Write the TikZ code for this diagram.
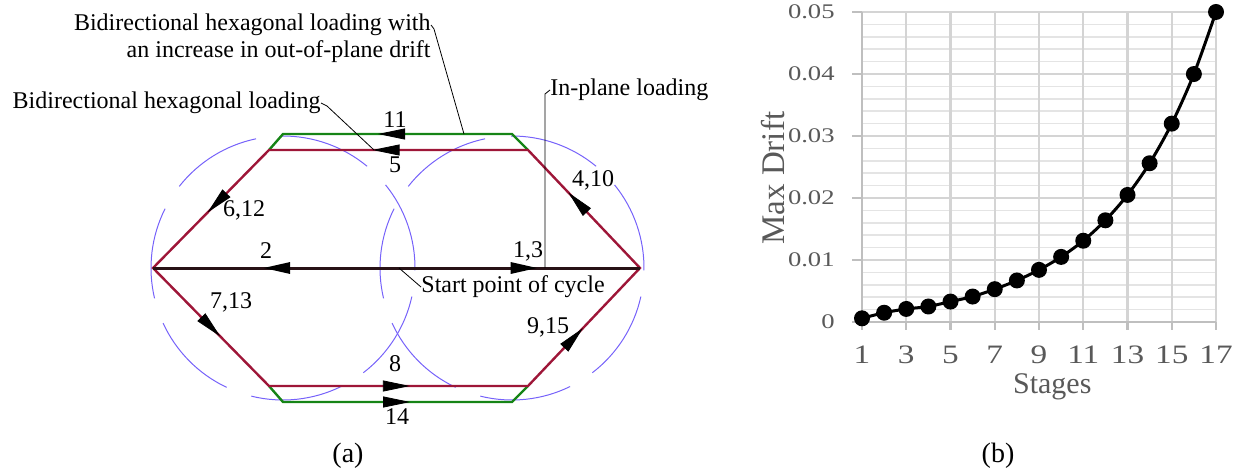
\documentclass[tikz,border=0pt]{standalone}
\usepackage{fontspec}
\usepackage{graphicx}
\setmainfont{Liberation Serif}
\usetikzlibrary{arrows.meta,decorations.markings}

\definecolor{hexred}{RGB}{158,22,56}
\definecolor{hexgreen}{RGB}{22,132,22}
\definecolor{guide}{RGB}{118,98,250}
\definecolor{axisgray}{RGB}{191,191,191}
\definecolor{gridgray}{RGB}{212,212,212}
\definecolor{minorgray}{RGB}{228,228,228}
\definecolor{labgray}{RGB}{89,89,89}

\tikzset{
  redpath/.style={draw=hexred, line width=1.2pt},
  greenpath/.style={draw=hexgreen, line width=1.2pt},
  blackpath/.style={draw={rgb,255:red,40;green,18;blue,22}, line width=1.5pt},
  guidearc/.style={draw=guide, line width=0.5pt},
  leader/.style={draw=black, line width=0.4pt},
  tipmark/.style={postaction={decorate, decoration={markings,
      mark=at position #1 with {\arrow[black]{Triangle[length=13.5pt,width=5.5pt]}}}}},
  tiprev/.style={postaction={decorate, decoration={markings,
      mark=at position #1 with {\arrowreversed[black]{Triangle[length=13.5pt,width=5.5pt]}}}}},
  steplabel/.style={inner sep=0pt},
  majorgrid/.style={draw=gridgray, line width=1.2pt},
  minorgrid/.style={draw=minorgray, line width=0.8pt},
  axisline/.style={draw=axisgray, line width=1.2pt},
  ticklabel/.style={text=labgray, inner sep=0pt},
}

\begin{document}
\begin{tikzpicture}[x=0.5pt, y=0.5pt, font=\fontsize{12}{14}\selectfont]
\useasboundingbox (0,0) rectangle (1236,472);

% (a) loading paths
\coordinate (L) at (153,204);
\coordinate (R) at (640,204);
\coordinate (TL) at (269,322);
\coordinate (TR) at (528,322);
\coordinate (BL) at (269,86);
\coordinate (BR) at (528,86);
\coordinate (GTL) at (283,338);
\coordinate (GTR) at (512,338);
\coordinate (GBL) at (283,70);
\coordinate (GBR) at (512,70);
\coordinate (C1) at (283,204);
\coordinate (C2) at (512,204);

% broken guide circles
\foreach \ctr in {C1,C2}
  \foreach \a in {50.4,101.8,153.3,204.7,256.1,307.5,359}
    \draw[guidearc] ([shift={(\a:66pt)}]\ctr) arc[start angle=\a, delta angle=40, radius=66pt];

\draw[greenpath] (TL) -- (GTL) -- (GTR) -- (TR);
\draw[greenpath] (BL) -- (GBL) -- (GBR) -- (BR);
\path[tipmark=0.585] (GTR) -- (GTL);
\path[tipmark=0.555] (GBL) -- (GBR);

\draw[redpath] (L) -- (TL) -- (TR) -- (R) -- (BR) -- (BL) -- cycle;
\foreach \a/\b/\p in {TR/TL/0.6, TL/L/0.53, L/BL/0.58, BL/BR/0.544, BR/R/0.49, R/TR/0.64}
  \path[tipmark=\p] (\a) -- (\b);

\draw[blackpath, tipmark=0.79, tiprev=0.226] (L) -- (R);

% step numbers
\node[steplabel] (s11) at (395,352) {11};
\node[steplabel] (s5) at (395,307) {5};
\node[steplabel] (s8) at (395,108) {8};
\node[steplabel] (s14) at (397,55) {14};
\node[steplabel] (s2) at (266,221) {2};
\node[steplabel] (s13) at (528,221) {1,3};
\node[steplabel] (s612) at (244,262) {6,12};
\node[steplabel] (s713) at (231,170) {7,13};
\node[steplabel] (s410) at (593,292) {4,10};
\node[steplabel] (s915) at (548,145) {9,15};

% callouts
\node[steplabel, anchor=east] (drift1) at (431,447) {Bidirectional hexagonal loading with};
\node[steplabel, anchor=east] (drift2) at (431,420) {an increase in out-of-plane drift};
\coordinate (gdrift) at (464,338);
\draw[leader] (drift1.east) -- ++(3,-4) -- (gdrift);

\node[steplabel, anchor=east] (hexload) at (321,369) {Bidirectional hexagonal loading};
\coordinate (rhex) at (374,322);
\draw[leader] (hexload.east) -- ++(6,-3) -- (rhex);

\node[steplabel, anchor=west] (inplane) at (550,382) {In-plane loading};
\coordinate (inpl) at (545,204);
\draw[leader] (inpl) -- (545,378) -- (inplane.west);

\node[steplabel, anchor=west] (startpt) at (421,185) {Start point of cycle};
\coordinate (spt) at (399,204);
\draw[leader] (spt) -- (startpt.west);

\node[font=\fontsize{14}{16}\selectfont] (capa) at (348,16) {(a)};

% (b) drift per stage
\begin{scope}[xshift=431pt, yshift=75pt, x=11.0625pt, y=3100pt]
  \foreach \j in {0,...,4}
    \foreach \m in {1,...,4}
      \draw[minorgrid] (0,{\j/100+\m/500}) -- (16,{\j/100+\m/500});
  \foreach \j in {1,...,5}
    \draw[majorgrid] (0,{\j/100}) -- (16,{\j/100});
  \foreach \s in {2,4,...,16}
    \draw[majorgrid] (\s,0) -- (\s,0.05);
  \draw[axisline] (0,0.05) -- (0,0) -- (16,0);
  \foreach \j/\t in {0/0, 1/0.01, 2/0.02, 3/0.03, 4/0.04, 5/0.05} {
    \draw[axisline] (0,{\j/100}) -- ++(-5pt,0);
    \node[ticklabel, anchor=east, xshift=-13.5pt] at (0,{\j/100})
      {\fontsize{10.4}{12}\selectfont\scalebox{1.28}[1]{\t}};
  }
  \foreach \s [evaluate=\s as \n using int(\s+1)] in {0,2,...,16} {
    \draw[axisline] (\s,0) -- ++(0,-4pt);
    \node[ticklabel, yshift=-16.5pt] at (\s,0)
      {\fontsize{13.3}{15}\selectfont\scalebox{1.25}[1]{\n}};
  }
  \node[ticklabel, rotate=90, yshift=44.5pt] (ylab) at (0,0.0232)
    {\fontsize{16.5}{18}\selectfont Max Drift};
  \node[ticklabel, yshift=-32.5pt] (xlab) at (8.6,0)
    {\fontsize{15}{17}\selectfont Stages};

  \draw[line width=1.5pt] plot[smooth] coordinates {(0,0.0006) (1,0.0015) (2,0.0021)
    (3,0.0025) (4,0.0033) (5,0.0041) (6,0.0053) (7,0.0067) (8,0.0084) (9,0.0105)
    (10,0.0131) (11,0.0164) (12,0.0205) (13,0.0256) (14,0.032) (15,0.04) (16,0.05)};
  \foreach \s/\v in {0/0.0006, 1/0.0015, 2/0.0021, 3/0.0025, 4/0.0033, 5/0.0041,
      6/0.0053, 7/0.0067, 8/0.0084, 9/0.0105, 10/0.0131, 11/0.0164, 12/0.0205,
      13/0.0256, 14/0.032, 15/0.04, 16/0.05}
    \fill (\s,\v) circle (4pt);
\end{scope}

\node[font=\fontsize{14}{16}\selectfont] (capb) at (998,16) {(b)};
\end{tikzpicture}
\end{document}
